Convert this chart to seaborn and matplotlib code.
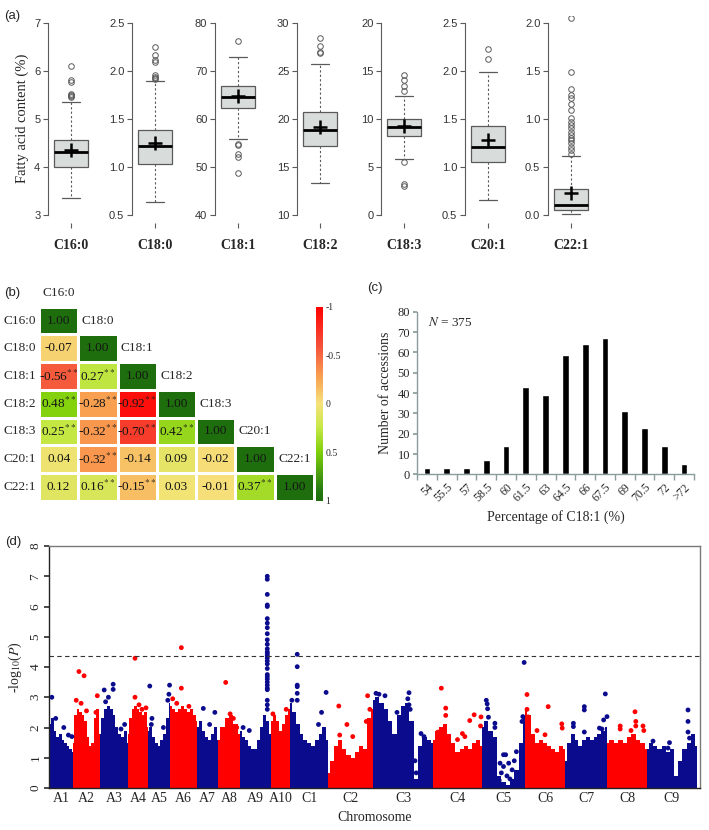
import numpy as np
import pandas as pd
import seaborn as sns
import matplotlib.pyplot as plt
from matplotlib.colors import LinearSegmentedColormap

# ---- (a) fatty acid boxplots: stats ----
acids = ['C16:0', 'C18:0', 'C18:1', 'C18:2', 'C18:3', 'C20:1', 'C22:1']
box_q1 = [4.01, 1.035, 62.35, 17.2, 8.25, 1.056, 0.05]
box_med = [4.31, 1.215, 64.7, 18.85, 9.13, 1.205, 0.10]
box_q3 = [4.56, 1.39, 66.95, 20.76, 10.0, 1.425, 0.27]
box_mean = [4.36, 1.255, 64.9, 19.2, 9.3, 1.28, 0.23]
whisk_lo = [3.35, 0.64, 55.9, 13.35, 5.87, 0.66, 0.007]
whisk_hi = [5.36, 1.90, 72.9, 25.77, 12.43, 1.99, 0.615]
fliers = [
    [5.46, 5.48, 5.5, 5.52, 5.78, 5.82, 6.1],
    [1.92, 1.93, 1.94, 1.96, 2.1, 2.12, 2.17, 2.25],
    [76.2, 54.9, 54.6, 52.8, 52.2, 48.7],
    [26.9, 27.0, 27.6, 28.45],
    [12.9, 13.5, 14.1, 14.6, 5.55, 3.2, 3.0],
    [2.13, 2.23],
    [2.06, 1.49, 1.315, 1.25, 1.22, 1.16, 1.10, 1.01, 0.975, 0.94, 0.905,
     0.87, 0.835, 0.8, 0.78, 0.75, 0.71, 0.68, 0.64],
]
box_ticks = [["3", "4", "5", "6", "7"],
             ["0.5", "1.0", "1.5", "2.0", "2.5"],
             ["40", "50", "60", "70", "80"],
             ["10", "15", "20", "25", "30"],
             ["0", "5", "10", "15", "20"],
             ["0.5", "1.0", "1.5", "2.0", "2.5"],
             ["0.0", "0.5", "1.0", "1.5", "2.0"]]

# ---- (b) correlation matrix (lower triangle) ----
corr_rows = [
    [1.00],
    [-0.07, 1.00],
    [-0.56, 0.27, 1.00],
    [0.48, -0.28, -0.92, 1.00],
    [0.25, -0.32, -0.70, 0.42, 1.00],
    [0.04, -0.32, -0.14, 0.09, -0.02, 1.00],
    [0.12, 0.16, -0.15, 0.03, -0.01, 0.37, 1.00],
]
star_rows = [
    [0], [0, 0], [1, 1, 0], [1, 1, 1, 0], [1, 1, 1, 1, 0],
    [0, 1, 0, 0, 0, 0], [0, 1, 1, 0, 0, 1, 0],
]

# ---- (c) C18:1 distribution ----
bins_lbl = ['54', '55.5', '57', '58.5', '60', '61.5', '63', '64.5', '66',
            '67.5', '69', '70.5', '72', '>72']
counts = [3, 3, 3, 7, 14, 43, 39, 59, 64, 67, 31, 23, 14, 5]

# ---- (d) Manhattan plot ----
chroms = ['A1', 'A2', 'A3', 'A4', 'A5', 'A6', 'A7', 'A8', 'A9', 'A10',
          'C1', 'C2', 'C3', 'C4', 'C5', 'C6', 'C7', 'C8', 'C9']
chrom_len = [23, 27, 28, 20, 22, 27, 21, 22, 31, 19,
             38, 45, 60, 49, 43, 40, 42, 40, 50]
# upper edge of the dense SNP cloud, evenly spaced along each chromosome
dense_top = [
    [2.1, 2.3, 1.9, 1.7, 1.8, 1.6, 1.5, 1.4, 1.3, 1.2],
    [1.5, 2.4, 2.6, 2.5, 2.4, 2.2, 1.7, 1.4, 1.5, 2.3, 2.6, 1.8],
    [1.8, 2.3, 2.6, 2.7, 2.6, 2.4, 2.0, 1.8, 1.7, 1.9, 1.5],
    [1.8, 2.3, 2.6, 2.7, 2.6, 2.5, 2.4, 2.5, 2.0],
    [1.9, 2.0, 1.7, 1.5, 1.4, 1.6, 1.8, 2.3, 2.8],
    [2.7, 2.6, 2.5, 2.6, 2.7, 2.6, 2.5, 2.6, 2.4, 2.2],
    [2.0, 2.2, 1.9, 1.7, 1.6, 1.8, 2.0, 1.6],
    [1.6, 2.0, 2.3, 2.4, 2.1, 1.8],
    [1.9, 1.7, 1.6, 1.4, 1.3, 1.3, 1.6, 2.0, 2.4, 2.2, 1.8],
    [2.2, 2.4, 2.2, 1.9, 2.1, 2.4, 2.6],
    [2.8, 2.5, 2.1, 1.8, 1.6, 1.5, 1.4, 1.6, 1.8, 2.0, 1.6],
    [0.5, 0.9, 1.4, 1.6, 1.3, 1.1, 1.0, 1.2, 1.4, 1.3, 2.3, 2.6],
    [2.9, 3.0, 2.8, 2.6, 2.2, 1.8, 2.4, 2.7, 2.8, 2.2, 0.3, 1.4, 1.7, 1.6, 1.5],
    [1.6, 1.9, 2.0, 2.1, 1.8, 1.5, 1.2, 1.3, 1.4, 1.3, 1.5, 1.6, 1.4],
    [2.0, 2.2, 1.9, 1.7, 0.4, 0.2, 0.1, 0.3, 0.6, 1.5, 2.3],
    [2.6, 2.4, 1.8, 1.5, 1.6, 1.5, 1.4, 1.3, 1.2, 1.4, 1.3],
    [0.9, 1.5, 1.8, 1.6, 1.4, 1.6, 1.7, 1.6, 1.7, 1.8, 1.9, 2.0],
    [1.5, 1.6, 1.5, 1.6, 1.5, 1.7, 1.8, 1.6, 1.5, 1.3],
    [1.3, 1.5, 1.4, 1.3, 1.4, 1.2, 1.3, 0.4, 0.9, 1.3, 1.5, 1.8, 1.4],
]
# isolated SNPs above the cloud: (position fraction along chromosome, -log10 P)
spikes = [
    [(0.08, 3.0), (0.25, 2.3), (0.6, 2.0), (0.8, 1.75), (0.95, 1.7)],
    [(0.22, 3.85), (0.41, 3.71), (0.12, 2.9), (0.9, 3.05), (0.85, 2.5), (0.3, 2.8), (0.5, 2.55)],
    [(0.15, 3.24), (0.47, 3.43), (0.47, 3.26), (0.3, 3.0), (0.2, 2.85), (0.88, 2.1), (0.75, 1.95)],
    [(0.35, 4.29), (0.35, 3.0), (0.9, 2.65), (0.55, 2.75), (0.7, 2.6)],
    [(0.08, 3.37), (0.18, 2.3), (0.15, 2.1), (0.98, 3.4), (0.95, 3.1), (0.9, 2.9), (0.7, 2.0)],
    [(0.42, 4.64), (0.42, 3.3), (0.1, 2.95), (0.7, 2.7), (0.25, 2.8)],
    [(0.3, 2.63), (0.85, 2.5), (0.6, 2.1)],
    [(0.35, 3.49), (0.55, 2.45), (0.7, 2.3), (0.85, 2.0)],
    [(0.88, 7.0), (0.88, 6.9), (0.88, 6.4), (0.88, 6.05), (0.88, 6.0), (0.88, 5.6),
     (0.88, 5.45), (0.88, 5.3), (0.88, 5.1), (0.88, 4.9), (0.88, 4.75), (0.88, 4.6),
     (0.88, 4.5), (0.88, 4.45), (0.88, 4.38), (0.88, 4.3), (0.88, 4.2), (0.88, 4.1),
     (0.88, 3.95), (0.88, 3.75), (0.88, 3.68), (0.88, 3.6), (0.88, 3.5), (0.88, 3.4),
     (0.88, 3.3), (0.88, 3.25), (0.88, 2.9), (0.88, 2.75), (0.88, 2.6),
     (0.1, 2.0), (0.3, 1.9)],
    [(0.1, 2.45), (0.8, 2.6)],
    [(0.19, 4.42), (0.19, 4.01), (0.19, 3.4), (0.19, 3.35), (0.19, 3.13), (0.19, 2.9),
     (0.95, 3.16), (0.83, 2.5), (0.75, 2.1), (0.05, 2.9)],
    [(0.24, 2.71), (0.42, 2.1), (0.26, 1.75), (0.85, 2.2), (0.88, 3.05), (0.93, 2.6), (0.55, 1.7)],
    [(0.05, 3.13), (0.1, 3.1), (0.2, 3.05), (0.6, 3.15), (0.58, 2.95), (0.6, 2.75),
     (0.62, 2.6), (0.8, 1.8), (0.85, 1.7), (0.4, 2.5), (0.7, 0.9), (0.72, 0.5), (0.74, 0.2)],
    [(0.17, 3.3), (0.26, 2.64), (0.26, 2.4), (0.75, 2.23), (0.84, 2.42), (0.98, 2.35),
     (0.97, 2.05), (0.6, 1.8), (0.5, 1.6), (0.1, 1.85), (0.65, 1.7)],
    [(0.1, 2.9), (0.12, 2.78), (0.13, 2.62), (0.15, 2.34), (0.3, 2.14), (0.3, 2.0),
     (0.5, 1.1), (0.55, 1.1), (0.5, 0.71), (0.62, 0.82), (0.45, 0.5), (0.42, 0.82),
     (0.58, 0.4), (0.65, 0.3), (0.4, 0.25), (0.7, 0.6), (0.75, 0.9), (0.8, 1.2),
     (0.98, 4.15), (0.95, 2.36), (0.93, 2.2)],
    [(0.05, 3.09), (0.05, 2.6), (0.08, 2.35), (0.58, 2.69), (0.92, 2.12), (0.93, 1.98),
     (0.5, 1.76), (0.3, 1.9)],
    [(0.2, 2.14), (0.2, 2.03), (0.46, 2.69), (0.46, 2.58), (0.96, 3.11), (1.0, 2.36),
     (0.92, 2.25), (0.82, 1.98), (0.46, 1.85), (0.88, 1.95)],
    [(0.7, 2.52), (0.33, 2.05), (0.33, 1.95), (0.72, 2.2), (0.72, 2.05), (0.9, 2.05),
     (0.92, 1.9), (0.6, 1.9)],
    [(0.82, 2.58), (0.82, 2.2), (0.82, 1.85), (0.12, 1.55), (0.42, 1.32), (0.45, 1.5),
     (0.85, 1.65)],
]
threshold = 4.36

sns.set_theme(style='white')
plt.rcParams['font.family'] = ['Liberation Serif', 'DejaVu Serif']
plt.rcParams['mathtext.fontset'] = 'stix'
SANS = ['Liberation Sans', 'DejaVu Sans']

W, H = 709, 830
fig = plt.figure(figsize=(W / 100, H / 100), dpi=100)


def add_ax(x0, y0, x1, y1):
    return fig.add_axes([x0 / W, 1 - y1 / H, (x1 - x0) / W, (y1 - y0) / H])


# ================= (a) =================
spine_x = [48, 132, 215, 297, 381, 465, 548]
grey = '#5a5a5a'
for i, name in enumerate(acids):
    ax = add_ax(spine_x[i], 15.6, spine_x[i] + 46, 222.7)
    st = [dict(med=box_med[i], q1=box_q1[i], q3=box_q3[i], whislo=whisk_lo[i],
               whishi=whisk_hi[i], mean=box_mean[i], fliers=np.array(fliers[i]))]
    ax.bxp(st, positions=[1], widths=0.8, capwidths=0.4, patch_artist=True,
           showmeans=True,
           boxprops=dict(facecolor='#d8dcda', edgecolor=grey, lw=0.9),
           medianprops=dict(color='black', lw=2),
           whiskerprops=dict(color=grey, lw=0.8, ls=(0, (2, 2))),
           capprops=dict(color=grey, lw=0.9),
           flierprops=dict(marker='o', mfc='none', mec=grey, ms=4, mew=0.7),
           meanprops=dict(marker='+', mec='black', ms=10, mew=1.8))
    tk = [float(t) for t in box_ticks[i]]
    lo, hi = tk[0], tk[-1]
    ax.set_ylim(lo - 0.04 * (hi - lo), hi + 0.04 * (hi - lo))
    ax.set_xlim(0.46, 1.54)
    ax.set_yticks(tk)
    ax.set_yticklabels(box_ticks[i], family=SANS, fontsize=8, color='#333333')
    ax.set_xticks([1])
    ax.set_xticklabels([name], fontweight='bold', fontsize=10)
    ax.tick_params(axis='y', length=3.5, width=0.8, color=grey, pad=2, left=True)
    ax.tick_params(axis='x', length=3.5, width=0.8, color=grey, pad=8, bottom=True)
    for s in ['top', 'right', 'bottom']:
        ax.spines[s].set_visible(False)
    ax.spines['left'].set_bounds(lo, hi)
    ax.spines['left'].set_color(grey)
    ax.spines['left'].set_linewidth(0.8)

fig.text(22 / W, 1 - 118 / H, 'Fatty acid content (%)', rotation=90,
         ha='center', va='center', fontsize=10.5)

# ================= (b) =================
n = len(acids)
mat = np.full((n, n), np.nan)
for i, row in enumerate(corr_rows):
    mat[i, :len(row)] = row
cmap = LinearSegmentedColormap.from_list('ryg', [
    (0.0, '#ff0000'), (0.2, '#f5503a'), (0.36, '#f8a050'), (0.5, '#f6e27a'),
    (0.62, '#c8e848'), (0.75, '#7fcf0a'), (0.95, '#237a12'), (1.0, '#1e6e0e')])

axb = add_ax(39, 306.7, 314, 500.7)
cax = add_ax(315.7, 306.7, 322.7, 500.7)
sns.heatmap(pd.DataFrame(mat, index=acids, columns=acids), cmap=cmap,
            vmin=-1, vmax=1, linewidths=0.8, linecolor='white',
            xticklabels=False, yticklabels=acids, ax=axb, cbar_ax=cax)
for i, row in enumerate(corr_rows):
    for j, v in enumerate(row):
        txt = f'{v:.2f}' + (r'$^{**}$' if star_rows[i][j] else '')
        axb.text(j + 0.5, i + 0.5, txt, ha='center', va='center',
                 fontsize=9.5, color='#151515')
for j, name in enumerate(acids):
    axb.text(j + 0.5, j - 0.5, name, ha='center', va='center',
             fontsize=9.5, clip_on=False)
axb.set_yticklabels(acids, rotation=0, fontsize=9.5)
axb.tick_params(axis='y', length=0, pad=2)
cb = axb.collections[0].colorbar
cb.set_ticks([-1, -0.5, 0, 0.5, 1])
cb.set_ticklabels(['-1', '-0.5', '0', '0.5', '1'])
cb.ax.invert_yaxis()
cb.ax.tick_params(length=0, labelsize=7, pad=2)
cb.outline.set_visible(False)

# ================= (c) =================
axc = add_ax(417, 311.9, 694, 474.3)
dfc = pd.DataFrame({'bin': bins_lbl, 'n': counts})
sns.barplot(data=dfc, x='bin', y='n', color='black', saturation=1,
            width=0.34, ax=axc)
teal = '#8b9c9c'
axc.set_xlim(-0.5, len(bins_lbl) - 0.5)
axc.set_ylim(0, 80)
axc.set_yticks(range(0, 81, 10))
axc.tick_params(axis='y', labelsize=9, length=3, color=teal, left=True, pad=2)
axc.set_xticks(range(len(bins_lbl)))
axc.set_xticklabels(bins_lbl, rotation=45, ha='right', rotation_mode='anchor',
                    fontsize=8.5)
axc.set_xticks(np.arange(-0.5, len(bins_lbl), 1), minor=True)
axc.tick_params(axis='x', which='major', length=0, pad=5)
axc.tick_params(axis='x', which='minor', length=4, color=teal, bottom=True)
for s in ['top', 'right']:
    axc.spines[s].set_visible(False)
for s in ['left', 'bottom']:
    axc.spines[s].set_color(teal)
    axc.spines[s].set_linewidth(1.0)
axc.set_ylabel('Number of accessions', fontsize=10, labelpad=4)
axc.set_xlabel('Percentage of C18:1 (%)', fontsize=10, labelpad=4)
axc.text(0.04, 0.935, r'$N$ = 375', transform=axc.transAxes, fontsize=9.5,
         ha='left', va='center')

# ================= (d) =================
axd = add_ax(49, 546, 700, 788)
blue, red = '#0b0b8e', '#ff0000'
offsets = np.concatenate([[0], np.cumsum(chrom_len)[:-1]])
pts = []
for k, name in enumerate(chroms):
    col = blue if k % 2 == 0 else red
    xs = offsets[k] + np.linspace(0, chrom_len[k], len(dense_top[k]))
    axd.fill_between(xs, 0, dense_top[k], color=col, lw=0, step='mid')
    for f, v in spikes[k]:
        pts.append((offsets[k] + f * chrom_len[k], v, 'b' if k % 2 == 0 else 'r'))
dfd = pd.DataFrame(pts, columns=['pos', 'logp', 'grp'])
sns.scatterplot(data=dfd, x='pos', y='logp', hue='grp',
                palette={'b': blue, 'r': red}, s=12, linewidth=0,
                legend=False, ax=axd)
axd.axhline(threshold, color='#333333', lw=0.8, ls=(0, (4, 3)))
axd.set_xlim(-1, 650)
axd.set_ylim(0, 8)
axd.set_yticks(range(0, 9))
axd.set_yticklabels([str(v) for v in range(0, 9)], rotation=90, va='center',
                    fontsize=9.5)
axd.tick_params(axis='y', length=3.5, left=True, color='#333333', pad=2)
axd.set_xticks(offsets + np.array(chrom_len) / 2)
axd.set_xticklabels(chroms, fontsize=10)
axd.tick_params(axis='x', length=0, pad=3)
for s in axd.spines.values():
    s.set_color('#7a7a7a')
    s.set_linewidth(1.0)
axd.spines['left'].set_color('#222222')
axd.spines['bottom'].set_color('#222222')
axd.set_xlabel('Chromosome', fontsize=10, labelpad=4)
axd.set_ylabel(r'-log$_{10}$($P$)', fontsize=10, labelpad=4)

# panel letters
for lbl, x, y in [('(a)', 12, 16), ('(b)', 12, 293), ('(c)', 375, 288), ('(d)', 13, 542)]:
    fig.text(x / W, 1 - y / H, lbl, family=SANS, fontsize=9.5, ha='center', va='center')

fig.savefig('out.png', dpi=100)
